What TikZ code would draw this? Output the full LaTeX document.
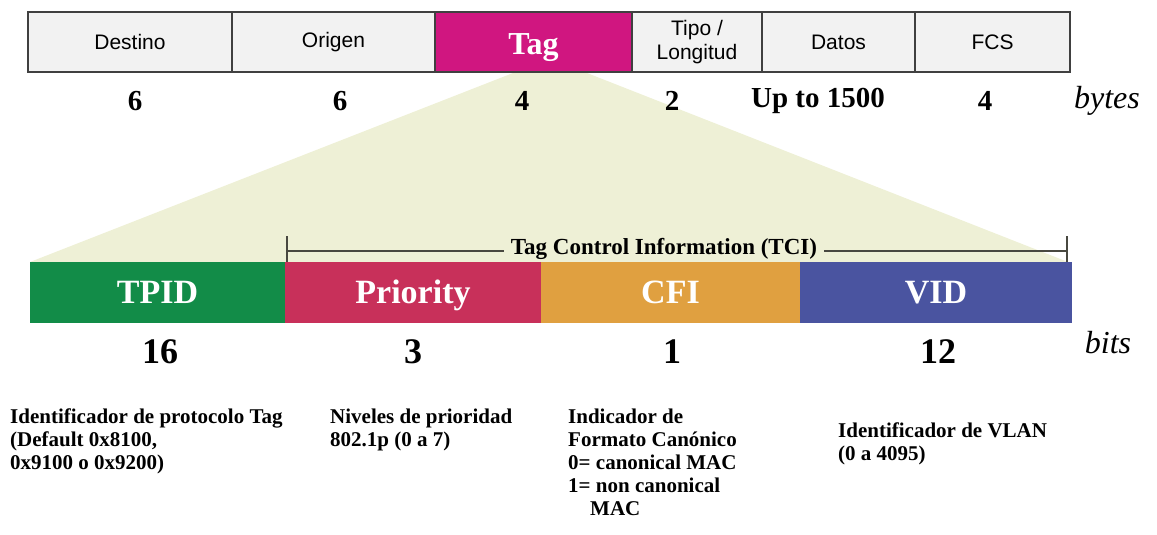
\documentclass[tikz,border=0pt]{standalone}
\usepackage{fontspec}
\setmainfont{Liberation Serif}
\setsansfont{Liberation Sans}
\usepackage{tikz}
\usetikzlibrary{calc}
\usepackage{xcolor}
\definecolor{fillCampo}{RGB}{242,242,242}
\definecolor{tagMag}{RGB}{208,22,128}
\definecolor{fillTrap}{RGB}{238,240,214}
\definecolor{tpidVerde}{RGB}{18,140,72}
\definecolor{prioRojo}{RGB}{200,48,90}
\definecolor{cfiNaranja}{RGB}{224,160,64}
\definecolor{vidAzul}{RGB}{74,84,160}
\definecolor{lineaTci}{RGB}{72,72,64}
\tikzset{
  % Campos de la trama Ethernet
  campo/.style    = {draw=black!75, line width=1.5pt, fill=fillCampo, minimum height=60pt,
                     inner sep=0pt, align=center, font=\sffamily\fontsize{21}{24}\selectfont},
  campoTag/.style = {campo, fill=tagMag, text=white, text height=26pt, text depth=0pt,
                     font=\bfseries\fontsize{32}{34}\selectfont},
  % Campos de la etiqueta 802.1Q
  bitcampo/.style = {minimum height=61pt, inner sep=0pt, text=white, text height=22pt, text depth=0pt,
                     font=\bfseries\fontsize{34}{36}\selectfont},
  % Tamanos
  numbyte/.style  = {font=\bfseries\fontsize{29}{31}\selectfont},
  numbit/.style   = {font=\bfseries\fontsize{36}{38}\selectfont},
  unidad/.style   = {font=\itshape\fontsize{32}{34}\selectfont},
  % Textos de descripcion
  desc/.style     = {anchor=north west, inner sep=0pt, align=left,
                     font=\bfseries\fontsize{21}{23}\selectfont},
  % Llave TCI
  llave/.style    = {draw=lineaTci, line width=1.6pt},
}

\begin{document}
\begin{tikzpicture}[x=1pt, y=-1pt]
  \useasboundingbox (0,0) rectangle (1157,535);
  % Trapecio de expansion
  \fill[fillTrap] (513,73) -- (587,73) -- (1068,262) -- (30,262) -- cycle;
  % Trama Ethernet
  \node[campo, minimum width=204pt] (destino) at (130,42) {Destino};
  \node[campo, minimum width=203pt] (origen) at (333.5,42) {Origen};
  \node[campoTag, minimum width=197pt] (tag) at (533.5,42) {Tag};
  \node[campo, minimum width=130pt] (tipo) at (697,42) {Tipo /\\Longitud};
  \node[campo, minimum width=153pt] (datos) at (838.5,42) {Datos};
  \node[campo, minimum width=155pt] (fcs) at (992.5,42) {FCS};
  % Bytes
  \node[numbyte] (nDestino) at (135,101) {6};
  \node[numbyte] (nOrigen) at (340,101) {6};
  \node[numbyte] (nTag) at (522,101) {4};
  \node[numbyte] (nTipo) at (672,101) {2};
  \node[numbyte] (nDatos) at (818,101) {Up to 1500};
  \node[numbyte] (nFcs) at (985,101) {4};
  \node[unidad] (bytes) at (1107,101) {bytes};
  % Etiqueta 802.1Q
  \node[bitcampo, fill=tpidVerde, minimum width=255pt] (tpid) at (157.5,292.5) {TPID};
  \node[bitcampo, fill=prioRojo, minimum width=256pt] (prio) at (413,292.5) {Priority};
  \node[bitcampo, fill=cfiNaranja, minimum width=259pt] (cfi) at (670.5,292.5) {CFI};
  \node[bitcampo, fill=vidAzul, minimum width=272pt] (vid) at (936,292.5) {VID};
  % Llave TCI
  \coordinate (tciLa) at (287,236);
  \coordinate (tciLb) at (287,262);
  \coordinate (tciRa) at (1067,236);
  \coordinate (tciRb) at (1067,262);
  \coordinate (tciL) at (287,251);
  \coordinate (tciR) at (1067,251);
  \node[font=\bfseries\fontsize{23}{25}\selectfont, inner xsep=7pt, inner ysep=0pt] (tci) at (664,249) {Tag Control Information (TCI)};
  \draw[llave] (tciLa) -- (tciLb);
  \draw[llave] (tciRa) -- (tciRb);
  \draw[llave] (tciL) -- (tci.west |- tciL);
  \draw[llave] (tci.east |- tciR) -- (tciR);
  % Bits
  \node[numbit] (nTpid) at (160,352) {16};
  \node[numbit] (nPrio) at (413,352) {3};
  \node[numbit] (nCfi) at (672,352) {1};
  \node[numbit] (nVid) at (938,352) {12};
  \node[unidad] (bits) at (1108,343) {bits};
  % Descripciones
  \node[desc] (dTpid) at (10,409) {Identificador de protocolo Tag\\(Default 0x8100,\\0x9100 o 0x9200)};
  \node[desc] (dPrio) at (330,409) {Niveles de prioridad\\802.1p (0 a 7)};
  \node[desc] (dCfi) at (568,409) {Indicador de\\Formato Canónico\\0= canonical MAC\\1= non canonical\\\hspace*{22pt}MAC};
  \node[desc] (dVid) at (838,423) {Identificador de VLAN\\(0 a 4095)};
\end{tikzpicture}
\end{document}
